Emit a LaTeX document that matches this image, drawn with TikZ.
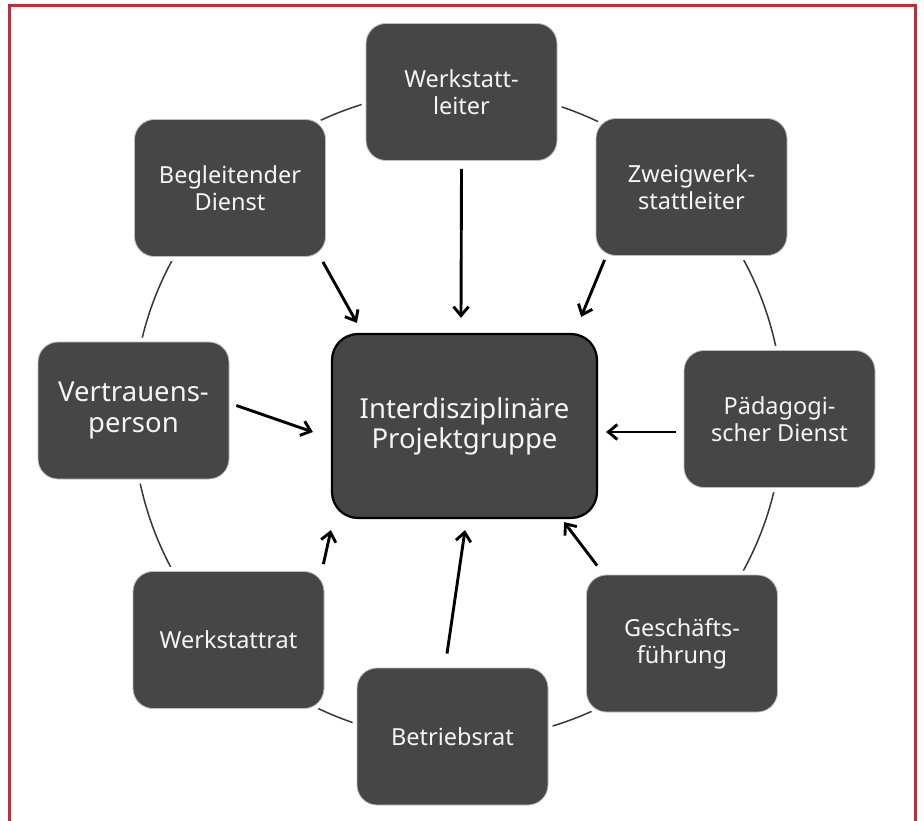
\documentclass[tikz,border=0pt]{standalone}
\usepackage{fontspec}
\setmainfont{Noto Sans}
\usetikzlibrary{arrows.meta}
\definecolor{boxgray}{RGB}{70,70,70}
\definecolor{edgegray}{RGB}{190,190,190}
\definecolor{framered}{RGB}{198,40,60}
\definecolor{ringgray}{RGB}{55,55,55}
\tikzset{
  boxnode/.style={rounded corners=20pt, fill=boxgray, draw=edgegray, line width=0.8pt,
    minimum width=191pt, minimum height=137pt, text=white!96!black, align=center,
    font=\fontsize{23.5}{27}\selectfont, inner sep=0pt,
    preaction={draw=white, line width=9pt}},
  centernode/.style={rounded corners=26pt, fill=boxgray, draw=black, line width=2.2pt,
    minimum width=265pt, minimum height=184pt, text=white!96!black, align=center,
    font=\fontsize{27.5}{30}\selectfont, inner sep=0pt},
  arrowline/.style={draw=black, line width=2.9pt, -{Straight Barb[length=9pt,width=15pt]}},
  ring/.style={draw=ringgray, line width=1.5pt},
  frameline/.style={draw=framered, line width=3pt}
}
\begin{document}
\begin{tikzpicture}[x=1pt,y=-1pt]
\useasboundingbox (0,0) rectangle (924,821);
\draw[frameline] (9.5,821) -- (9.5,5.5) -- (915,5.5) -- (915,821);
\draw[ring] (458,415) circle [radius=325];

\node[boxnode] (wl) at (461.5,92) {Werkstatt-\\leiter};
\node[boxnode] (begl) at (230,188) {Begleitender\\Dienst};
\node[boxnode] (zw) at (691.5,187) {Zweigwerk-\\stattleiter};
\node[boxnode, font=\fontsize{27.5}{31}\selectfont] (vp) at (133.5,410.5) {Vertrauens-\\person};
\node[boxnode] (pd) at (779.5,419) {Pädagogi-\\scher Dienst};
\node[boxnode] (wr) at (228.5,640) {Werkstattrat};
\node[boxnode] (gf) at (682,643.5) {Geschäfts-\\führung};
\node[boxnode] (br) at (452.5,736.5) {Betriebsrat};
\node[centernode] (ctr) at (464.5,426) {Interdisziplinäre\\Projektgruppe};

\draw[arrowline] ([shift={(-3,5)}]begl.south east) -- ([shift={(26,-10)}]ctr.north west);
\draw[arrowline] ([shift={(0,8)}]wl.south) -- ([shift={(-3.5,-15)}]ctr.north);
\draw[arrowline] ([shift={(9,4)}]zw.south west) -- ([shift={(-17,-16)}]ctr.north east);
\draw[arrowline] ([shift={(7,-5)}]vp.east) -- ([shift={(-18,6)}]ctr.west);
\draw[arrowline] ([shift={(-8,13)}]pd.west) -- ([shift={(8,6)}]ctr.east);
\draw[arrowline] ([shift={(11,-9)}]gf.north west) -- ([shift={(-34,3)}]ctr.south east);
\draw[arrowline] ([shift={(-5.5,-14)}]br.north) -- ([shift={(0.5,11)}]ctr.south);
\draw[arrowline] ([shift={(-1,-7)}]wr.north east) -- ([shift={(0,11)}]ctr.south west);
\end{tikzpicture}
\end{document}
